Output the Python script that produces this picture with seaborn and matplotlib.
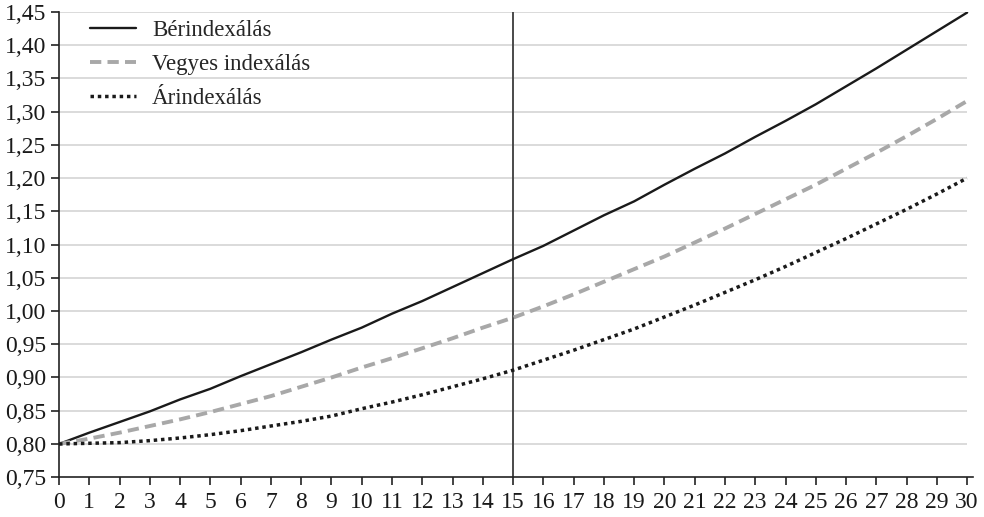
import matplotlib
matplotlib.use('Agg')
from matplotlib import pyplot as plt
from matplotlib.ticker import FuncFormatter
import pandas as pd
import seaborn as sns

years = list(range(0, 31))
berindexalas = [0.800, 0.817, 0.833, 0.849, 0.867, 0.883, 0.902, 0.920, 0.938, 0.957,
                0.975, 0.996, 1.015, 1.036, 1.057, 1.078, 1.098, 1.121, 1.144, 1.165,
                1.190, 1.214, 1.237, 1.262, 1.286, 1.311, 1.338, 1.365, 1.393, 1.421, 1.449]
vegyes = [0.800, 0.808, 0.817, 0.827, 0.837, 0.848, 0.860, 0.872, 0.886, 0.900,
          0.915, 0.929, 0.944, 0.959, 0.975, 0.990, 1.007, 1.025, 1.044, 1.063,
          1.082, 1.103, 1.124, 1.146, 1.168, 1.190, 1.214, 1.238, 1.263, 1.289, 1.316]
arindexalas = [0.800, 0.801, 0.802, 0.805, 0.809, 0.814, 0.820, 0.827, 0.834, 0.842,
               0.853, 0.863, 0.874, 0.886, 0.898, 0.911, 0.926, 0.941, 0.957, 0.973,
               0.991, 1.009, 1.028, 1.047, 1.067, 1.088, 1.109, 1.131, 1.153, 1.176, 1.200]
y_ticks = [0.75, 0.80, 0.85, 0.90, 0.95, 1.00, 1.05, 1.10, 1.15, 1.20,
           1.25, 1.30, 1.35, 1.40, 1.45]

df = pd.DataFrame({'ev': years, 'Bérindexálás': berindexalas,
                   'Vegyes indexálás': vegyes, 'Árindexálás': arindexalas})

sns.set_style('white')
plt.rcParams['font.family'] = ['Liberation Serif', 'DejaVu Serif']

f, ax = plt.subplots(figsize=(9.84, 5.17), dpi=100)
f.subplots_adjust(left=0.060, right=0.989, top=0.977, bottom=0.077)

sns.lineplot(data=df, x='ev', y='Bérindexálás', ax=ax, color='#1a1a1a',
             linewidth=1.7, label='Bérindexálás')
sns.lineplot(data=df, x='ev', y='Vegyes indexálás', ax=ax, color='#a8a8a8',
             linewidth=2.8, linestyle=(0, (2.9, 1.6)), label='Vegyes indexálás')
sns.lineplot(data=df, x='ev', y='Árindexálás', ax=ax, color='#1a1a1a',
             linewidth=2.5, linestyle=(0, (1, 1.1)), label='Árindexálás')

# gridlines only up to the last year, the spine runs a bit further
ax.hlines(y_ticks[1:], 0, 30, color='#d4d4d4', linewidth=1.2, zorder=0)
ax.axvline(15, color='#4a4a4a', linewidth=1.4, zorder=1)

ax.set_xlim(0, 30.2)
ax.set_ylim(0.75, 1.45)
ax.set_xticks(years)
ax.set_yticks(y_ticks)
ax.yaxis.set_major_formatter(FuncFormatter(lambda v, p: f'{v:.2f}'.replace('.', ',')))
ax.grid(False)
ax.set_xlabel('')
ax.set_ylabel('')

for s in ['top', 'right']:
    ax.spines[s].set_visible(False)
for s in ['left', 'bottom']:
    ax.spines[s].set_color('#222222')
    ax.spines[s].set_linewidth(1.2)
ax.tick_params(axis='both', direction='out', length=6, width=1.2, color='#222222',
               labelsize=17, labelcolor='#1a1a1a', left=True, bottom=True)
ax.tick_params(axis='x', pad=5)
ax.tick_params(axis='y', pad=3)

ax.legend(loc='upper left', bbox_to_anchor=(0.034, 0.982), frameon=False, fontsize=16.5,
          handlelength=2.0, labelspacing=0.56, handletextpad=0.7,
          borderaxespad=0, borderpad=0)

plt.savefig('out.png', dpi=100)
